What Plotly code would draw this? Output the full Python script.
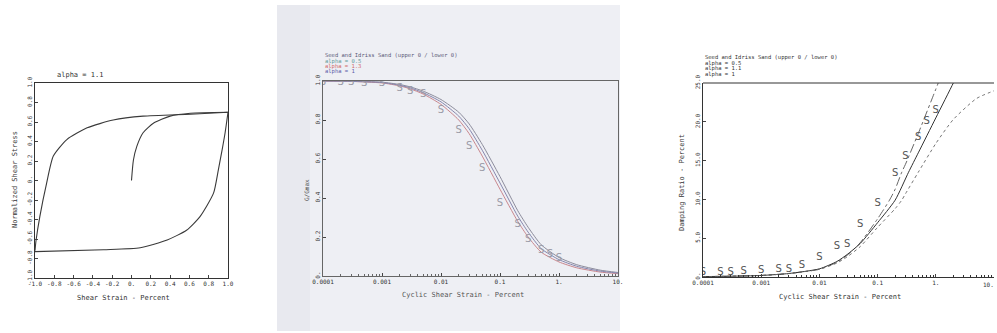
import plotly.graph_objects as go

W, H = 997, 333


def px(x):
    return x / W


def py(y):
    return 1 - y / H


# ---------------- Panel 1 : hysteresis loop (alpha = 1.1) ----------------
backbone_strain = [0.0, 0.02, 0.055, 0.12, 0.23, 0.40, 0.61, 1.0]
backbone_stress = [0.0, 0.21, 0.35, 0.49, 0.59, 0.66, 0.69, 0.70]

upper_strain = [-1.0, -0.99, -0.95, -0.88, -0.81, -0.67, -0.46, -0.19, 0.12, 0.61, 1.0]
upper_stress = [-0.72, -0.62, -0.37, -0.03, 0.25, 0.42, 0.54, 0.62, 0.66, 0.68, 0.70]

lower_strain = [1.0, 0.97, 0.94, 0.90, 0.85, 0.71, 0.57, 0.37, 0.09, -0.29, -1.0]
lower_stress = [0.70, 0.49, 0.32, 0.11, -0.13, -0.37, -0.51, -0.61, -0.69, -0.71, -0.73]

lin_ticks = [-1.0, -0.8, -0.6, -0.4, -0.2, 0.0, 0.2, 0.4, 0.6, 0.8, 1.0]
lin_ticktext = ["-1.0", "-0.8", "-0.6", "-0.4", "-0.2", "0.", "0.2", "0.4", "0.6", "0.8", "1.0"]

# ---------------- Panel 2 : modulus reduction ----------------
curve_strain = [0.0001, 0.0003, 0.001, 0.002, 0.003, 0.005, 0.01, 0.02, 0.03, 0.05,
                0.1, 0.2, 0.3, 0.5, 1.0, 2.0, 5.0, 10.0]
g_alpha05 = [1.0, 0.999, 0.994, 0.982, 0.97, 0.948, 0.905, 0.84, 0.78, 0.675,
             0.51, 0.335, 0.25, 0.16, 0.095, 0.058, 0.03, 0.018]
g_alpha13 = [1.0, 0.998, 0.99, 0.975, 0.96, 0.933, 0.88, 0.80, 0.73, 0.615,
             0.445, 0.28, 0.20, 0.122, 0.072, 0.042, 0.02, 0.012]
g_alpha10 = [1.0, 0.998, 0.992, 0.978, 0.965, 0.94, 0.893, 0.82, 0.755, 0.645,
             0.477, 0.307, 0.225, 0.14, 0.084, 0.05, 0.025, 0.015]

g_data_strain = [0.0001, 0.0002, 0.0003, 0.0005, 0.001, 0.002, 0.003, 0.005, 0.01,
                 0.02, 0.03, 0.05, 0.1, 0.2, 0.3, 0.5, 0.7, 1.0]
g_data_value = [0.99, 0.99, 0.99, 0.988, 0.986, 0.962, 0.945, 0.93, 0.851,
                0.744, 0.663, 0.552, 0.373, 0.262, 0.185, 0.133, 0.108, 0.091]

# ---------------- Panel 3 : damping ----------------
d_strain_a = [0.0001, 0.0003, 0.001, 0.003, 0.01, 0.02, 0.03, 0.05, 0.1, 0.16, 0.2,
              0.26, 0.3, 0.5, 1.0, 1.1, 1.3]
d_alpha05 = [0.05, 0.1, 0.2, 0.45, 1.0, 1.9, 2.8, 4.4, 7.5, 9.9, 11.3,
             13.5, 14.5, 18.5, 24.2, 25.0, 26.5]

d_strain_b = [0.0001, 0.0003, 0.001, 0.003, 0.01, 0.02, 0.03, 0.05, 0.1, 0.2,
              0.34, 0.5, 1.0, 2.0, 2.3]
d_alpha11 = [0.05, 0.1, 0.2, 0.45, 1.05, 2.0, 2.9, 4.3, 7.0, 9.9,
             13.5, 16.0, 20.5, 25.0, 26.0]

d_strain_c = [0.0001, 0.0003, 0.001, 0.003, 0.01, 0.02, 0.03, 0.05, 0.1, 0.2,
              0.26, 0.3, 0.5, 1.0, 2.0, 5.0, 10.0]
d_alpha1 = [0.05, 0.1, 0.2, 0.45, 1.0, 1.8, 2.6, 3.9, 6.4, 8.8,
            9.9, 10.7, 13.5, 17.2, 20.3, 23.0, 24.0]

d_data_strain = [0.0001, 0.0002, 0.0003, 0.0005, 0.001, 0.002, 0.003, 0.005, 0.01,
                 0.02, 0.03, 0.05, 0.1, 0.2, 0.3, 0.5, 0.7, 1.0]
d_data_value = [0.52, 0.64, 0.64, 0.73, 0.86, 0.94, 1.03, 1.42, 2.49,
                3.99, 4.21, 6.74, 9.45, 13.3, 15.5, 18.0, 20.0, 21.5]

log_tickvals = [0.0001, 0.001, 0.01, 0.1, 1, 10]
log_ticktext = ["0.0001", "0.001", "0.01", "0.1", "1.", "10."]
g_ticks = [0, 0.2, 0.4, 0.6, 0.8, 1.0]
g_ticktext = ["0.", "0.2", "0.4", "0.6", "0.8", "1.0"]
d_ticks = [0, 5, 10, 15, 20, 25]
d_ticktext = ["0.", "5.0", "10.0", "15.0", "20.0", "25.0"]

MONO = "DejaVu Sans Mono"

fig = go.Figure()

# Panel 1 traces
for xs, ys in [(backbone_strain, backbone_stress), (upper_strain, upper_stress),
               (lower_strain, lower_stress)]:
    fig.add_trace(go.Scatter(x=xs, y=ys, mode="lines", xaxis="x", yaxis="y",
                             line=dict(color="#3a3a3a", width=1.1, shape="spline",
                                       smoothing=0.6),
                             showlegend=False, hoverinfo="skip"))

# Panel 2 traces
for ys, col in [(g_alpha05, "#8c8c9c"), (g_alpha13, "#c9868d"), (g_alpha10, "#8686ad")]:
    fig.add_trace(go.Scatter(x=curve_strain, y=ys, mode="lines", xaxis="x2", yaxis="y2",
                             line=dict(color=col, width=1.0, shape="spline", smoothing=0.6),
                             showlegend=False, hoverinfo="skip"))
fig.add_trace(go.Scatter(x=g_data_strain, y=g_data_value, mode="text", text=["S"] * len(g_data_strain),
                         textfont=dict(family="DejaVu Sans", size=10, color="#9a9aa6"),
                         xaxis="x2", yaxis="y2", showlegend=False, hoverinfo="skip"))

# Panel 3 traces
fig.add_trace(go.Scatter(x=d_strain_a, y=d_alpha05, mode="lines", xaxis="x3", yaxis="y3",
                         line=dict(color="#555", width=0.9, dash="dashdot", shape="spline",
                                   smoothing=0.6),
                         showlegend=False, hoverinfo="skip"))
fig.add_trace(go.Scatter(x=d_strain_b, y=d_alpha11, mode="lines", xaxis="x3", yaxis="y3",
                         line=dict(color="#333", width=1.0, shape="spline", smoothing=0.6),
                         showlegend=False, hoverinfo="skip"))
fig.add_trace(go.Scatter(x=d_strain_c, y=d_alpha1, mode="lines", xaxis="x3", yaxis="y3",
                         line=dict(color="#666", width=0.9, dash="dot", shape="spline",
                                   smoothing=0.6),
                         showlegend=False, hoverinfo="skip"))
fig.add_trace(go.Scatter(x=d_data_strain, y=d_data_value, mode="text", text=["S"] * len(d_data_strain),
                         textfont=dict(family="DejaVu Sans", size=10, color="#555"),
                         xaxis="x3", yaxis="y3", showlegend=False, hoverinfo="skip"))

tickfont = dict(family=MONO, size=6, color="#333")

common = dict(showgrid=False, zeroline=False, showline=True, linewidth=1,
              ticks="inside", ticklen=3, tickfont=tickfont, automargin=False)

fig.update_layout(
    width=W, height=H, margin=dict(l=0, r=0, t=0, b=0, pad=0, autoexpand=False),
    paper_bgcolor="white", plot_bgcolor="rgba(0,0,0,0)",
    xaxis=dict(domain=[px(35), px(228)], range=[-1, 1], tickvals=lin_ticks,
               ticktext=lin_ticktext, anchor="y", mirror=True, linecolor="#333", **common),
    yaxis=dict(domain=[py(278), py(83)], range=[-1, 1], tickvals=lin_ticks,
               ticktext=lin_ticktext, anchor="x", mirror=True, linecolor="#333",
               tickangle=-90, **common),
    xaxis2=dict(domain=[px(323), px(618)], type="log", range=[-4, 1],
                tickvals=log_tickvals, ticktext=log_ticktext, anchor="y2", mirror=True,
                linecolor="#666", minor=dict(ticks="inside", ticklen=2, dtick="D1",
                                             tickcolor="#666"), **common),
    yaxis2=dict(domain=[py(276), py(81)], range=[0, 1], tickvals=g_ticks,
                ticktext=g_ticktext, anchor="x2", mirror=True, linecolor="#666",
                tickangle=-90, **common),
    xaxis3=dict(domain=[px(703), px(994)], type="log", range=[-4, 1],
                tickvals=log_tickvals[:-1], ticktext=log_ticktext[:-1], anchor="y3",
                linecolor="#333", minor=dict(ticks="inside", ticklen=2, dtick="D1",
                                             tickcolor="#333"), **common),
    yaxis3=dict(domain=[py(277), py(83)], range=[0, 25], tickvals=d_ticks,
                ticktext=d_ticktext, anchor="x3", linecolor="#333",
                tickangle=-90, **common),
)

# photo background of the middle panel
fig.add_shape(type="rect", xref="paper", yref="paper", x0=px(277), x1=px(620),
              y0=py(331), y1=py(5), fillcolor="#eeeff4", line_width=0, layer="below")
fig.add_shape(type="rect", xref="paper", yref="paper", x0=px(277), x1=px(310),
              y0=py(331), y1=py(5), fillcolor="#e8e9ef", line_width=0, layer="below")
# top frame line of the damping panel
fig.add_shape(type="line", xref="paper", yref="paper", x0=px(703), x1=px(994),
              y0=py(83), y1=py(83), line=dict(color="#333", width=1.2))


def ann(text, x, y, size=7, color="#333", angle=0, xanchor="center", family=MONO):
    fig.add_annotation(text=text, x=px(x), y=py(y), xref="paper", yref="paper",
                       showarrow=False, xanchor=xanchor, yanchor="middle",
                       textangle=angle, font=dict(family=family, size=size, color=color))


# Panel 1 labels
ann("alpha = 1.1", 55, 75, size=7, xanchor="left")
ann("Normalized Shear Stress", 15, 180, size=7, angle=-90)
ann("Shear Strain - Percent", 123, 298, size=7)

# Panel 2 labels
ann("Seed and Idriss Sand (upper 0 / lower 0)", 323, 56, size=5.5, color="#5a5a78", xanchor="left")
ann("alpha = 0.5", 323, 61.5, size=5.5, color="#5f9a9a", xanchor="left")
ann("alpha = 1.3", 323, 66.5, size=5.5, color="#d06a6a", xanchor="left")
ann("alpha = 1", 323, 71.5, size=5.5, color="#5a5aa8", xanchor="left")
ann("G/Gmax", 306, 190, size=6, color="#555", angle=-90)
ann("Cyclic Shear Strain - Percent", 463, 295, size=7, color="#555")

# Panel 3 labels
ann("Seed and Idriss Sand (upper 0 / lower 0)", 703, 57.5, size=5.5, xanchor="left")
ann("alpha = 0.5", 703, 63, size=5.5, xanchor="left")
ann("alpha = 1.1", 703, 68.5, size=5.5, xanchor="left")
ann("alpha = 1", 703, 74, size=5.5, xanchor="left")
ann("Damping Ratio - Percent", 682, 183, size=7, angle=-90)
ann("Cyclic Shear Strain - Percent", 840, 297, size=7)
ann(log_ticktext[-1], 996, 284, size=6, xanchor="right")

fig.write_html("out.html", config={"displayModeBar": False},
               post_script="document.body.style.margin='0px';document.body.style.overflow='hidden';")
